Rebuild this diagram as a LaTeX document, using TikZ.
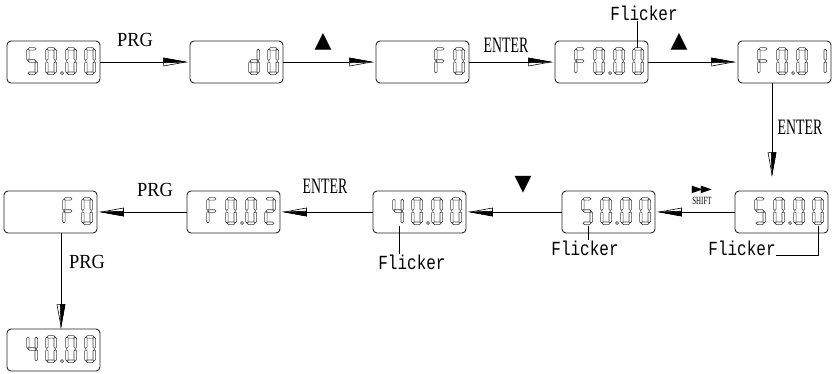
\documentclass[tikz,border=0pt]{standalone}
\usepackage{fontspec}
\setmainfont{Liberation Serif}
\newfontfamily\keyfont[FakeStretch=0.92]{Liberation Serif}
\newfontfamily\enterfont[FakeStretch=0.63]{Liberation Serif}
\newfontfamily\flickfont[FakeStretch=0.8]{Liberation Mono}
\newfontfamily\symfont{DejaVu Sans}
\usetikzlibrary{calc,arrows.meta}

% half filled arrow head
\pgfdeclarearrow{
	name = HalfHead,
	parameters = {\the\pgfarrowlength,\the\pgfarrowwidth},
	setup code = {
		\pgfarrowssettipend{0pt}
		\pgfarrowssetlineend{-.9\pgfarrowlength}
		\pgfarrowssetvisualbackend{-\pgfarrowlength}
		\pgfarrowssetbackend{-\pgfarrowlength}
		\pgfarrowshullpoint{0pt}{0pt}
		\pgfarrowsupperhullpoint{-\pgfarrowlength}{.5\pgfarrowwidth}
		\pgfarrowssavethe\pgfarrowlength
		\pgfarrowssavethe\pgfarrowwidth
	},
	drawing code = {
		\pgfsetdash{}{0pt}
		\pgfsetlinewidth{0.6pt}
		\pgfpathmoveto{\pgfqpoint{0pt}{0pt}}
		\pgfpathlineto{\pgfqpoint{-\pgfarrowlength}{.5\pgfarrowwidth}}
		\pgfpathlineto{\pgfqpoint{-\pgfarrowlength}{-.5\pgfarrowwidth}}
		\pgfpathclose
		\pgfsetfillcolor{white}
		\pgfusepathqfillstroke
		\pgfpathmoveto{\pgfqpoint{0pt}{0pt}}
		\pgfpathlineto{\pgfqpoint{-\pgfarrowlength}{.5\pgfarrowwidth}}
		\pgfpathlineto{\pgfqpoint{-\pgfarrowlength}{-.1\pgfarrowwidth}}
		\pgfpathclose
		\pgfsetfillcolor{black}
		\pgfusepathqfillstroke
	},
	defaults = {length=22pt, width=8pt}
}

% seven segment pieces (cell 11 x 27, y down)
\def\sega{(1.6,1.3) -- (2.9,0) -- (8.1,0) -- (9.4,1.3) -- (8.1,2.6) -- (2.9,2.6) -- cycle}
\def\segg{(1.6,13.5) -- (2.9,12.2) -- (8.1,12.2) -- (9.4,13.5) -- (8.1,14.8) -- (2.9,14.8) -- cycle}
\def\segd{(1.6,25.7) -- (2.9,24.4) -- (8.1,24.4) -- (9.4,25.7) -- (8.1,27) -- (2.9,27) -- cycle}
\def\segf{(1.3,1.6) -- (2.6,2.9) -- (2.6,11.6) -- (1.3,12.9) -- (0,11.6) -- (0,2.9) -- cycle}
\def\sege{(1.3,14.1) -- (2.6,15.4) -- (2.6,24.1) -- (1.3,25.4) -- (0,24.1) -- (0,15.4) -- cycle}
\def\segb{(9.7,1.6) -- (11,2.9) -- (11,11.6) -- (9.7,12.9) -- (8.4,11.6) -- (8.4,2.9) -- cycle}
\def\segc{(9.7,14.1) -- (11,15.4) -- (11,24.1) -- (9.7,25.4) -- (8.4,24.1) -- (8.4,15.4) -- cycle}
\def\segp{(1.5,25.5) circle[radius=1.5pt]}

\def\lcdzero{a,b,c,d,e,f}
\def\lcdone{b,c}
\def\lcdtwo{a,b,d,e,g}
\def\lcdfour{b,c,f,g}
\def\lcdfive{a,c,d,f,g}
\def\lcdF{a,e,f,g}
\def\lcdd{b,c,d,e,g}
\def\lcdpt{p}

\def\lcdshow(#1)#2{%
	\begin{scope}[shift={(#1.north west)}]
		\foreach \dx/\dg in {#2}{%
			\edef\seglist{\dg}%
			\begin{scope}[shift={(\dx,7)}]
				\foreach \s in \seglist {\draw[lcdseg] \csname seg\s\endcsname;}
			\end{scope}}
	\end{scope}}

\begin{document}
\begin{tikzpicture}[x=1pt, y=-1pt,
	lcd/.style={draw=black!85, line width=0.9pt, rounded corners=4pt, minimum width=93pt, minimum height=42pt, inner sep=0pt},
	lcdseg/.style={draw=black!75, line width=0.6pt, fill=white},
	flow/.style={line width=0.8pt, -{HalfHead[length=22pt,width=8pt]}, shorten >=4pt},
	leader/.style={line width=0.6pt},
	prglabel/.style={font=\keyfont\fontsize{20}{20}\selectfont, inner sep=0pt},
	enterlabel/.style={font=\enterfont\fontsize{22}{22}\selectfont, inner sep=0pt},
	shiftlabel/.style={font=\enterfont\fontsize{11}{11}\selectfont, inner sep=0pt},
	flicklabel/.style={font=\flickfont\fontsize{20}{20}\selectfont, inner sep=0pt},
	keysym/.style={font=\symfont\fontsize{22}{22}\selectfont, inner sep=0pt}]
			%%%%% START %%%%%
			\useasboundingbox (0,0) rectangle (833,373);
			
			% top row
			\node[lcd] (b1) at (53.5,62) {};
			\node[lcd] (b2) at (236.5,62) {};
			\node[lcd] (b3) at (422.5,62) {};
			\node[lcd] (b4) at (601.5,62) {};
			\node[lcd] (b5) at (784.5,62) {};
			
			% bottom row
			\node[lcd] (b6) at (781.5,212) {};
			\node[lcd] (b7) at (608.5,212) {};
			\node[lcd] (b8) at (419.5,212) {};
			\node[lcd] (b9) at (233.5,212) {};
			\node[lcd] (b10) at (50.5,212) {};
			\node[lcd] (b11) at (53.5,350) {};
			
			\lcdshow(b1){20/\lcdfive, 39/\lcdzero, 54/\lcdpt, 59/\lcdzero, 78/\lcdzero}
			\lcdshow(b2){59/\lcdd, 78/\lcdzero}
			\lcdshow(b3){59/\lcdF, 78/\lcdzero}
			\lcdshow(b4){20/\lcdF, 39/\lcdzero, 54/\lcdpt, 59/\lcdzero, 78/\lcdzero}
			\lcdshow(b5){20/\lcdF, 39/\lcdzero, 54/\lcdpt, 59/\lcdzero, 78/\lcdone}
			\lcdshow(b6){20/\lcdfive, 39/\lcdzero, 54/\lcdpt, 59/\lcdzero, 78/\lcdzero}
			\lcdshow(b7){20/\lcdfive, 39/\lcdzero, 54/\lcdpt, 59/\lcdzero, 78/\lcdzero}
			\lcdshow(b8){20/\lcdfour, 39/\lcdzero, 54/\lcdpt, 59/\lcdzero, 78/\lcdzero}
			\lcdshow(b9){20/\lcdF, 39/\lcdzero, 54/\lcdpt, 59/\lcdzero, 78/\lcdtwo}
			\lcdshow(b10){59/\lcdF, 78/\lcdzero}
			\lcdshow(b11){20/\lcdfour, 39/\lcdzero, 54/\lcdpt, 59/\lcdzero, 78/\lcdzero}
			
			% keys
			\node[prglabel] (prg1) at (135,40) {PRG};
			\node[keysym] (up1) at (323,42) {▲};
			\node[enterlabel] (ent1) at (506,45) {ENTER};
			\node[keysym] (up2) at (679,42) {▲};
			\node[enterlabel] (ent2) at (800,127) {ENTER};
			\node[font=\symfont\fontsize{10}{10}\selectfont, inner sep=0pt] (ff) at (702,190) {\scalebox{1.45}[1]{▶\kern-1.5pt▶}};
			\node[shiftlabel] (shift) at (702,201) {SHIFT};
			\node[keysym] (down1) at (523,185) {▼};
			\node[enterlabel] (ent3) at (325,186) {ENTER};
			\node[prglabel] (prg2) at (155,190) {PRG};
			\node[prglabel] (prg3) at (87,262) {PRG};
			
			% arrows
			\draw[flow] (b1) -- (b2);
			\draw[flow] (b2) -- (b3);
			\draw[flow] (b3) -- (b4);
			\draw[flow] (b4) -- (b5);
			\draw[flow, shorten >=16pt] ($(b5.south)+(-12.5,0)$) -- ($(b6.north)+(-9.5,0)$);
			\draw[flow] (b6) -- (b7);
			\draw[flow] (b7) -- (b8);
			\draw[flow] (b8) -- (b9);
			\draw[flow] (b9) -- (b10);
			\draw[flow, shorten >=2pt] ($(b10.south)+(10.5,0)$) -- ($(b11.north)+(7.5,0)$);
			
			% flicker marks
			\node[flicklabel] (fl1) at (644,13) {Flicker};
			\node[flicklabel] (fl2) at (412,262) {Flicker};
			\node[flicklabel] (fl3) at (585,248) {Flicker};
			\node[flicklabel] (fl4) at (742,248) {Flicker};
			\coordinate (tipA) at (637,48);
			\coordinate (tipB) at (399,226);
			\coordinate (tipC) at (588,226);
			\coordinate (tipD) at (818,226);
			\draw[leader] (fl1.south -| tipA) -- (tipA);
			\draw[leader] (tipB) -- (tipB |- fl2.north);
			\draw[leader] (tipC) -- (tipC |- fl3.north);
			\draw[leader] (tipD) |- (fl4.south east);
			
			%%%%% END %%%%%
\end{tikzpicture}
\end{document}
